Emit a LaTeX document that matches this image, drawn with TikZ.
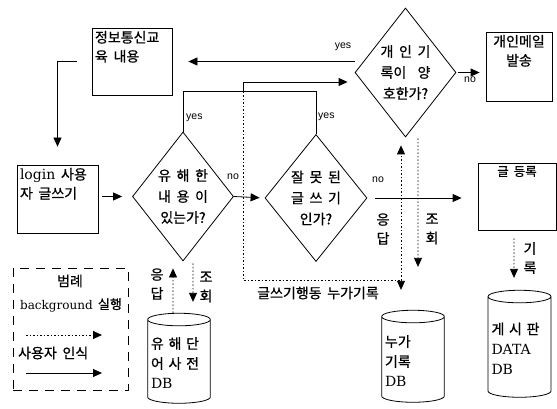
\documentclass[tikz,border=0pt]{standalone}
\usepackage{fontspec}
\setmainfont{DejaVu Serif}
\newfontfamily\kr[WordSpace=1.8, FakeBold=0.8]{Noto Sans CJK KR}
\newfontfamily\yn{Liberation Sans}
\usetikzlibrary{arrows.meta,shapes.geometric,calc}
\newcommand{\boxtext}[3]{\parbox[t][#2][t]{#1}{#3}}
\newcommand{\lat}[1]{{\rmfamily #1}}

\begin{document}
\begin{tikzpicture}[x=1pt, y=-1pt,
    procbox/.style={draw, line width=.8pt, inner sep=3pt,
      font=\kr\fontsize{14}{19}\selectfont},
    decide/.style={draw, diamond, aspect=.78, line width=.8pt,
      minimum width=101pt, minimum height=129pt, inner sep=0pt,
      align=center, font=\kr\fontsize{14}{21}\selectfont},
    dbstore/.style={draw, cylinder, shape border rotate=90, aspect=.2,
      line width=.8pt, minimum width=60pt, minimum height=90pt,
      text width=56pt, align=left, font=\kr\fontsize{14}{20}\selectfont},
    note/.style={inner sep=0pt, align=center,
      font=\kr\fontsize{14}{19}\selectfont},
    yn/.style={inner sep=0pt, font=\yn\fontsize{10.5}{12}\selectfont},
    flow/.style={line width=.8pt},
    arr/.style={flow, -{Triangle[length=9pt,width=8pt]}},
    bgline/.style={line width=.8pt, dash pattern=on 1.5pt off 2pt},
    bgarr/.style={bgline, -{Triangle[length=9pt,width=8pt]}},
  ]
  \useasboundingbox (0,0) rectangle (557,409);

  % boxes
  \node[procbox] (edu) at (132,61.5)
    {\boxtext{74pt}{61pt}{정보통신교\\육 내용}};
  \node[procbox] (login) at (57.5,199)
    {\boxtext{75pt}{62pt}{\lat{login} 사용\\자 글쓰기}};
  \node[procbox] (mail) at (519,66.5)
    {\boxtext{60pt}{63pt}{\centering 개인메일\\발송}};
  \node[procbox] (reg) at (517,196.5)
    {\boxtext{72pt}{61pt}{\centering\fontsize{12.5}{16}\selectfont 글 등록}};

  % decisions
  \node[decide] (d1) at (183,196.5) {유 해 한\\내 용 이\\있는가?};
  \node[decide, minimum width=102pt, minimum height=127pt] (d2)
    at (316,198) {잘 못 된\\글 쓰 기\\인가?};
  \node[decide] (d3) at (405.5,72.5) {개 인 기\\록이~~양\\호한가?};

  % stores
  \node[dbstore] (hdb) at (179,363) {유 해 단\\어 사 전\\\lat{DB}};
  \node[dbstore, minimum height=92pt] (nuga) at (413,361)
    {누가\\기록\\\lat{DB}};
  \node[dbstore, minimum width=63pt, minimum height=107pt] (bdb)
    at (519.5,348.5) {게 시 판\\\lat{DATA}\\\lat{DB}};

  % legend
  \node[draw, line width=.8pt, dash pattern=on 9pt off 7pt,
    minimum width=115pt, minimum height=122pt] (legend) at (70.5,329) {};
  \node[note] (lgtitle) at (70,281) {범례};
  \node[note, font=\kr\fontsize{13}{16}\selectfont] (lgbg) at (71,305)
    {\lat{\fontsize{12}{16}\selectfont background} 실행};
  \node[note, anchor=west] (lguser) at (18,353) {사용자 인식};
  \coordinate (lg1a) at (26,335);
  \coordinate (lg1b) at (102,335);
  \coordinate (lg2a) at (26,373);
  \coordinate (lg2b) at (102,373);
  \draw[bgarr] (lg1a) -- (lg1b);
  \draw[arr] (lg2a) -- (lg2b);

  % main flow
  \draw[arr, shorten <=15pt, shorten >=18pt] (edu.west) -| (login.north);
  \draw[arr, shorten <=4pt, shorten >=10pt] (login.east |- d1.west) -- (d1.west);
  \draw[arr, shorten >=5pt] (d1.east) -- (d2.west);
  \draw[arr, shorten <=8pt, shorten >=16pt] (d2.east) -- (reg.west |- d2.east);
  \draw[arr, shorten <=2pt, shorten >=6pt] (d3.east) -- (mail.west |- d3.east);
  \draw[arr, shorten >=16pt] (d3.west |- edu.east) -- (edu.east);

  % yes branches
  \coordinate (jtop) at (243,82);
  \coordinate (jmid) at (243,92);
  \draw[flow] (d1.north) -- ++(0,-40) -| (d2.north);
  \draw[arr, shorten >=7pt] (jmid) -- (jtop) -- (d3.west |- jtop);

  % background lookups
  \coordinate (lc) at (243,280);
  \coordinate (rc) at (401,280);
  \draw[bgline] (jmid) -- (lc) -- (rc);
  \draw[bgarr, shorten >=8pt] (rc) -- (rc |- d3.south);
  \draw[bgarr, shorten >=20pt] (rc) -- (rc |- nuga.north);
  \draw[bgarr] ($(d3.south)+(12.5,1)$) -- ($(nuga.north)+(5,-43)$);
  \draw[bgarr, shorten >=7pt] ($(hdb.north)+(-6,0)$) -- ($(d1.south)+(-10,0)$);
  \draw[bgarr, shorten >=11pt] ($(d1.south)+(10,2)$) -- ($(hdb.north)+(14,0)$);
  \draw[bgarr, shorten <=8pt, shorten >=12pt]
    ($(reg.south)+(-3,0)$) -- ($(bdb.north)+(-5.5,0)$);

  % labels
  \node[yn, anchor=west] (yes1) at (186,118) {yes};
  \node[yn, anchor=west] (yes2) at (318,117) {yes};
  \node[yn] (yes3) at (343,47) {yes};
  \node[yn] (no1) at (233,177) {no};
  \node[yn] (no2) at (378,180) {no};
  \node[yn] (no3) at (470,80) {no};
  \node[note] (ans1) at (157,284) {응\\답};
  \node[note] (qry1) at (206,287) {조\\회};
  \node[note] (ans2) at (383,229) {응\\답};
  \node[note] (qry2) at (432,229) {조\\회};
  \node[note] (rec) at (530,258) {기\\록};
  \node[note] (track) at (318,293) {글쓰기행동 누가기록};
\end{tikzpicture}
\end{document}
